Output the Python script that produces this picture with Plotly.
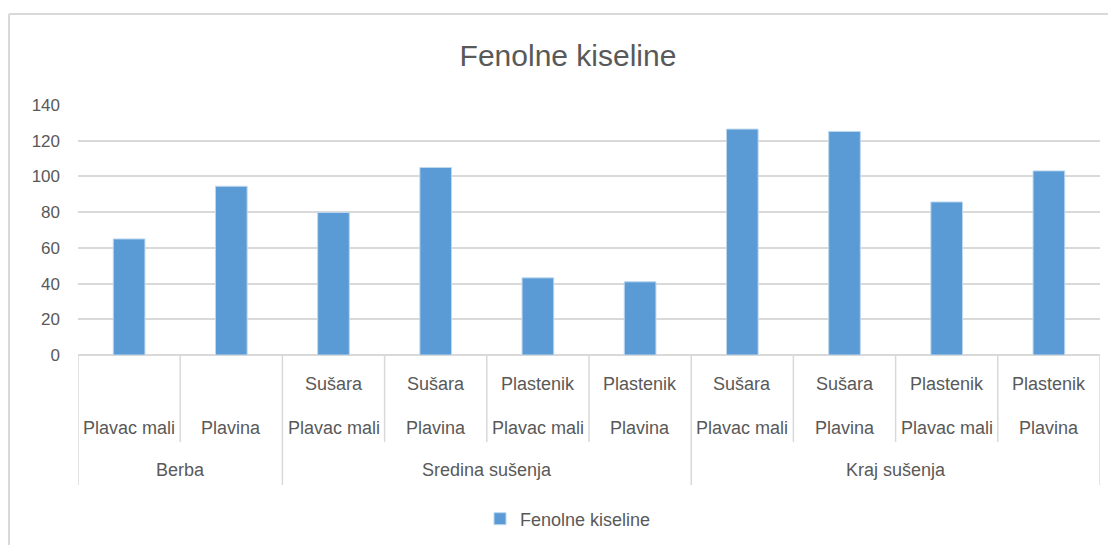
import plotly.graph_objects as go

# ---- data ----
groups = ["Berba", "Sredina sušenja", "Kraj sušenja"]
group_sizes = [2, 4, 4]
methods = ["", "", "Sušara", "Sušara", "Plastenik", "Plastenik",
           "Sušara", "Sušara", "Plastenik", "Plastenik"]
varieties = ["Plavac mali", "Plavina", "Plavac mali", "Plavina", "Plavac mali",
             "Plavina", "Plavac mali", "Plavina", "Plavac mali", "Plavina"]
values = [65.0, 94.5, 79.8, 105.0, 43.2, 41.0, 126.5, 125.2, 85.7, 103.1]
series_name = "Fenolne kiseline"
title_text = "Fenolne kiseline"

# ---- styling ----
OFF = 8  # page body margin
W, H = 1116 - OFF, 545 - OFF
L, T = 78 - OFF, 105 - OFF
R = W - (1100 - OFF)
B = H - (355 - OFF)
GREY = "#D9D9D9"
TXT = "#595959"
FONT = "Liberation Sans, Arial, sans-serif"
FS = 18

n = len(values)
xs = list(range(n))

fig = go.Figure()
fig.add_trace(go.Bar(
    x=xs, y=values, name=series_name, width=0.31,
    marker=dict(color="#5B9BD5", line=dict(color="#BDD7EE", width=1)),
    showlegend=True,
))

PH = H - T - B  # plot height in px
py = lambda p: ((355 - OFF) - (p - OFF)) / PH      # page pixel y -> paper y
px = lambda p: ((p - OFF) - L) / (W - L - R)       # page pixel x -> paper x

annotations = []
shapes = []

row1_y = py(384)
row2_y = py(428)
row3_y = py(470)
inner_end = py(442)
group_end = py(485)

for i in xs:
    if methods[i]:
        annotations.append(dict(x=i, y=row1_y, xref="x", yref="paper", text=methods[i],
                                showarrow=False, yanchor="middle",
                                font=dict(family=FONT, size=FS, color=TXT)))
    annotations.append(dict(x=i, y=row2_y, xref="x", yref="paper", text=varieties[i],
                            showarrow=False, yanchor="middle",
                            font=dict(family=FONT, size=FS, color=TXT)))

start = 0
boundaries = [-0.5]
for g, size in zip(groups, group_sizes):
    center = start + (size - 1) / 2
    annotations.append(dict(x=center, y=row3_y, xref="x", yref="paper", text=g,
                            showarrow=False, yanchor="middle",
                            font=dict(family=FONT, size=FS, color=TXT)))
    start += size
    boundaries.append(start - 0.5)

for k in range(n + 1):
    xb = k - 0.5
    end = group_end if xb in boundaries else inner_end
    shapes.append(dict(type="line", xref="x", yref="paper", x0=xb, x1=xb, y0=0, y1=end,
                       line=dict(color=GREY, width=1.5)))

# outer frame (top and left edges)
shapes.append(dict(type="line", xref="paper", yref="paper", x0=px(9), x1=px(1116),
                   y0=py(14), y1=py(14), line=dict(color=GREY, width=2)))
shapes.append(dict(type="line", xref="paper", yref="paper", x0=px(9), x1=px(9),
                   y0=py(14), y1=py(545), line=dict(color=GREY, width=2)))

fig.update_layout(
    width=W, height=H,
    margin=dict(l=L, r=R, t=T, b=B),
    paper_bgcolor="white", plot_bgcolor="white",
    title=dict(text=title_text, x=(568 - OFF) / W, xref="container", xanchor="center",
               y=1 - (55 - OFF) / H, yref="container", yanchor="middle",
               font=dict(family=FONT, size=30, color=TXT)),
    xaxis=dict(range=[-0.5, n - 0.5], showticklabels=False, showgrid=False,
               zeroline=False, showline=False, ticks=""),
    yaxis=dict(range=[0, 140], dtick=20, showgrid=True, gridcolor=GREY, gridwidth=1.5,
               zeroline=True, zerolinecolor=GREY, zerolinewidth=1.5, showline=False,
               tickfont=dict(family=FONT, size=17, color=TXT), ticklabelstandoff=17),
    legend=dict(orientation="h", x=(568 - OFF) / W, xanchor="center", xref="container",
                y=1 - (519 - OFF) / H, yref="container", yanchor="middle",
                font=dict(family=FONT, size=FS, color=TXT), itemwidth=30),
    annotations=annotations,
    shapes=shapes,
    bargap=0.69,
)

fig.write_html("out.html")
